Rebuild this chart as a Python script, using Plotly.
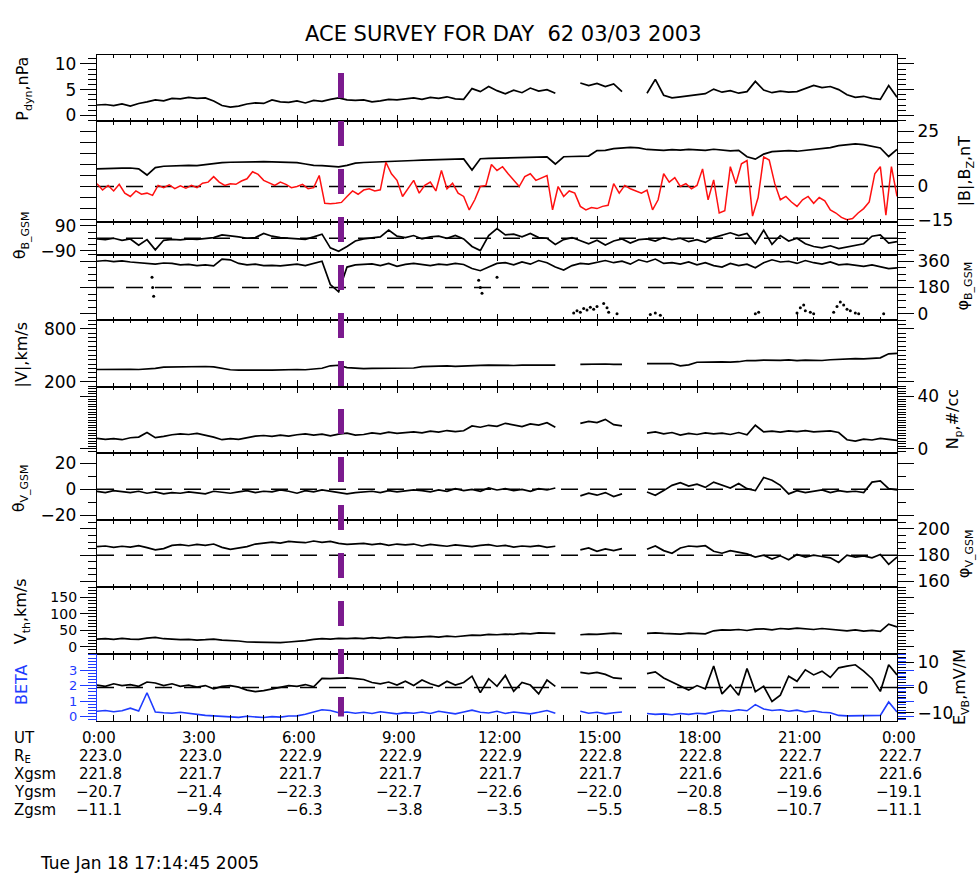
import numpy as np
import plotly.graph_objects as go

nan = float('nan')

# ---------------- data ----------------
t15 = np.linspace(0, 24, 97)    # 15-min sampling, hours UT
t10 = np.linspace(0, 24, 145)   # 10-min sampling for Bz

pdyn = [2.0, 2.1, 1.9, 2.2, 1.8, 2.3, 2.6, 3.0, 2.8, 3.3, 3.2, 3.5, 3.3, 3.4, 2.8, 1.9,
        1.6, 1.8, 2.2, 2.4, 2.3, 3.0, 2.6, 2.5, 2.8, 2.4, 2.9, 2.7, 3.1, 3.4, 3.0, 2.9,
        3.0, 2.6, 2.8, 3.1, 3.0, 3.2, 3.4, 3.1, 3.5, 3.3, 3.6, 3.2, 3.1, 5.2, 4.6, 5.6,
        4.8, 4.2, 4.9, 4.4, 5.3, 4.7, 5.0, 4.3, nan, nan, 6.3, 5.8, 6.2, 5.6, 6.1, 4.6,
        nan, nan, 4.3, 7.0, 3.9, 3.4, 3.6, 3.8, 4.0, 4.2, 5.1, 4.5, 4.8, 4.3, 4.6, 6.6,
        4.9, 4.4, 4.7, 4.5, 4.6, 5.2, 5.8, 5.4, 5.6, 5.0, 4.0, 3.5, 3.7, 3.3, 3.1, 5.8,
        3.5]

b_mag = [8.0, 8.2, 8.1, 8.3, 8.4, 8.0, 5.2, 8.6, 9.2, 9.4, 9.3, 9.6, 9.5, 10.0, 10.5, 10.8,
         11.0, 11.0, 10.9, 11.2, 11.3, 11.1, 11.2, 11.0, 10.8, 10.2, 9.6, 9.5, 9.2, 8.9, 9.6, 10.6,
         10.9, 11.0, 11.2, 11.3, 11.5, 11.6, 11.8, 12.0, 12.1, 12.2, 12.3, 12.4, 12.5, 7.5, 12.6, 12.8,
         12.9, 13.1, 13.0, 13.2, 13.3, 13.2, 13.4, 10.2, 13.5, 13.6, 13.7, 13.8, 16.3, 16.4, 17.2, 17.6,
         17.7, 17.5, 16.8, 16.6, 16.4, 16.7, 16.5, 16.8, 16.6, 16.4, 16.9, 16.5, 16.2, 16.4, 13.5, 12.4,
         14.7, 15.8, 16.1, 16.3, 16.0, 16.4, 16.6, 17.0, 17.6, 18.5, 19.0, 19.3, 19.0, 18.2, 17.5, 13.6,
         16.8]

bz = [1.3, -1.6, 0.5, -2.0, 1.0, -3.0,
      -4.5, -2.0, -3.5, -3.0, -4.0, 0.5,
      -0.5, 0.8, -1.0, 0.3, -0.8, 0.5,
      -0.5, 1.5, 2.0, 4.5, 2.0, 0.5,
      1.3, 1.0, 2.5, 3.5, 6.7, 5.5,
      2.8, 1.5, 0.5, 2.0, 1.0, -0.5,
      0.0, 1.0, -1.0, -0.5, 5.0, -7.6,
      -7.8, -7.6, -7.2, -4.5, -2.0, -3.5,
      -1.6, -1.0, -2.0, -1.5, 11.0, 5.8,
      2.8, -4.5, -1.0, 2.8, -3.0, 0.5,
      2.0, -2.0, 7.3, -1.0, 1.5, -3.0,
      -4.5, -10.6, -6.0, 0.0, 0.5, 10.0,
      7.3, 9.0, 5.8, 3.0, 0.0, 4.5,
      5.8, 2.8, 4.0, 5.0, -10.6, 0.0,
      -4.5, -2.0, -3.0, -9.0, -10.6, -9.5,
      -10.0, -9.0, -8.5, 1.3, -3.0, 0.5,
      -1.0, -2.0, -3.0, -1.6, -10.6, -6.0,
      5.8, 2.0, 4.0, 0.0, 1.3, -1.0,
      0.5, 8.0, -6.0, 3.0, -12.0, -11.0,
      9.0, 1.3, 10.3, 11.8, -13.4, -5.0,
      13.4, 12.0, 1.3, -6.0, -4.5, -7.0,
      -9.0, -6.0, -4.5, -7.6, -5.0, -6.5,
      -10.6, -12.0, -14.0, -15.0, -14.5, -12.0,
      -10.0, -7.0, 5.8, 9.0, -13.0, 9.0,
      -4.5]

theta_b = [-5, -10, 0, -15, -5, -50, -10, -85, -15, -8, -12, -5, -8, -3, 5, 25,
           20, 10, 0, 5, 35, 15, 5, 0, -5, -8, 10, 30, -70, -95, -60, -20,
           -5, 0, 10, 60, 15, 5, 20, -5, 10, 15, 0, 20, -5, -60, -90, 20,
           70, 25, 30, 10, 35, 5, 0, -45, -10, 5, -20, -40, -15, -50, -20, -5,
           -35, -10, -5, -20, 5, -10, 0, -25, -10, -30, 5, 25, 40, 20, 35, -40,
           60, -45, 20, -20, 0, -40, -60, -70, -55, -75, -65, -50, -40, 15, 25, -35,
           -25]

phi_b = [360, 365, 358, 362, 355, 350, 345, 340, 348, 345, 335, 338, 330, 335, 328, 375,
         370, 345, 335, 340, 330, 332, 328, 335, 340, 330, 345, 360, 200, 150, 320, 335,
         338, 342, 330, 345, 325, 338, 345, 335, 330, 340, 335, 345, 338, 310, 295, 320,
         345, 350, 335, 355, 340, 365, 350, 320, 300, 330, 345, 340, 355, 365, 350, 360,
         340, 370, 355, 375, 345, 350, 340, 355, 335, 350, 330, 320, 345, 330, 340, 315,
         350, 370, 355, 360, 345, 365, 350, 340, 355, 335, 340, 330, 325, 335, 320, 310,
         315]

# scattered (wrapped / isolated) phi_B samples
phi_b_pts_t = [1.65, 1.67, 1.70, 11.45, 11.50, 11.55, 12.0,
               14.3, 14.4, 14.5, 14.6, 14.7, 14.8, 14.9, 15.0, 15.2, 15.3, 15.35, 15.6,
               16.6, 16.75, 16.9, 19.75, 19.85,
               21.0, 21.1, 21.2, 21.25, 21.4, 21.5,
               22.1, 22.2, 22.3, 22.4, 22.5, 22.6, 22.75, 22.85, 23.6]
phi_b_pts = [250, 180, 120, 230, 180, 140, 250,
             5, 20, 10, 35, 25, 45, 30, 50, 70, 40, 10, 0,
             -5, 5, -10, 0, 10,
             5, 40, 60, 20, 10, 0,
             10, 50, 80, 60, 30, 20, 5, 0, 0]

v_mag = [338, 340, 336, 339, 341, 338, 340, 350, 365, 368, 370, 366, 369, 372, 367, 350,
         335, 330, 333, 328, 332, 330, 334, 331, 338, 335, 340, 352, 380, 386, 360, 352,
         348, 350, 352, 349, 353, 350, 355, 370, 375, 372, 378, 374, 380, 386, 384, 388,
         385, 390, 383, 387, 386, 390, 384, 388, nan, nan, 395, 398, 396, 400, 397, 395,
         nan, nan, 405, 408, 404, 406, 380, 390, 420, 423, 418, 425, 422, 426, 440, 438,
         445, 440, 442, 446, 438, 444, 442, 440, 448, 455, 460, 462, 458, 463, 470, 515,
         520]

n_p = [8.0, 7.2, 7.8, 7.0, 8.5, 9.0, 12.5, 8.6, 9.5, 10.8, 11.5, 11.0, 11.8, 10.5, 9.0, 7.0,
       7.8, 7.2, 8.5, 9.8, 10.2, 9.5, 10.5, 9.8, 10.8, 11.5, 10.5, 11.2, 10.0, 11.3, 12.0, 10.5,
       11.0, 12.2, 11.5, 12.8, 11.8, 12.5, 13.0, 12.2, 13.5, 12.8, 14.0, 13.2, 13.8, 17.5, 16.5, 18.0,
       17.2, 19.5, 18.0, 17.0, 19.0, 18.2, 20.0, 16.5, nan, nan, 19.5, 21.0, 20.0, 22.5, 18.5, 17.5,
       nan, nan, 12.0, 13.0, 11.5, 12.5, 10.5, 11.8, 11.0, 12.2, 11.5, 12.0, 11.0, 12.5, 10.8, 18.0,
       13.0, 13.5, 12.8, 13.8, 13.2, 14.0, 13.0, 13.5, 13.8, 12.5, 7.0, 6.0, 7.5, 6.8, 8.0, 7.2,
       6.5]

theta_v = [-1.5, -2.5, -1.0, -2.0, -2.5, -1.5, -3.0, -2.0, -3.5, -2.5, -3.0, -2.0, -2.5, -3.5, -1.5, -2.5,
           -3.0, -2.0, -1.0, -2.5, -1.5, -2.0, -0.5, -1.5, -3.0, -1.0, -2.0, -0.5, -1.5, -2.5, -3.5, -2.5,
           -2.0, -1.5, -2.5, -1.0, -2.0, -1.5, -0.5, -1.0, -2.0, -0.5, -1.5, 0.5, -1.0, 0.0, -1.5, 1.0,
           -0.5, 0.5, -1.0, 0.0, -1.5, 0.5, -0.5, 1.0, nan, nan, -5.0, -3.0, -4.5, -2.5, -5.5, -3.5,
           nan, nan, -2.0, -4.5, -1.0, 3.0, 5.0, 2.5, 4.0, 1.5, 5.5, 3.0, 1.0, 4.5, 0.5, -1.0,
           9.0, 7.0, 3.0, -3.5, -1.0, -2.5, -1.5, -0.5, -2.5, -1.0, -2.0, -1.5, -2.5, 5.5, 6.5, 0.5,
           -0.5]

phi_v = [186.5, 187.0, 186.0, 186.8, 186.2, 187.2, 185.8, 184.0, 185.0, 187.5, 188.0, 187.2, 188.2, 187.5, 188.5, 186.0,
         184.5, 185.5, 186.5, 188.5, 189.5, 190.0, 189.2, 190.5, 190.0, 189.5, 190.8, 189.8, 190.5, 189.0, 188.2, 188.8,
         189.0, 188.0, 188.8, 187.5, 188.5, 187.8, 188.5, 187.0, 188.2, 187.5, 186.8, 187.8, 187.0, 186.5, 187.5, 188.0,
         186.8, 187.5, 186.2, 187.0, 186.5, 187.2, 186.0, 186.8, nan, nan, 184.0, 185.5, 183.0, 184.8, 183.5, 185.0,
         nan, nan, 184.5, 187.0, 183.5, 181.5, 185.5, 187.0, 186.5, 187.2, 183.0, 181.5, 183.5, 182.0, 181.0, 178.5,
         180.0, 177.0, 179.5, 176.5, 180.5, 178.5, 180.0, 179.0, 178.0, 174.5, 180.0, 178.5, 179.5, 178.0, 180.5, 173.0,
         178.5]

v_th = [23, 24, 22, 25, 23, 22, 26, 28, 24, 22, 21, 22, 20, 21, 23, 20,
        19, 17, 14, 13, 12, 13, 12, 14, 15, 18, 22, 24, 23, 25, 24, 26,
        24, 27, 25, 28, 26, 29, 28, 30, 31, 29, 32, 30, 33, 35, 34, 37,
        36, 38, 37, 40, 39, 42, 41, 40, nan, nan, 36, 38, 37, 40, 41, 39,
        nan, nan, 40, 42, 40, 39, 38, 41, 40, 39, 48, 51, 50, 52, 49, 53,
        54, 51, 55, 53, 56, 54, 52, 55, 53, 50, 48, 51, 47, 49, 46, 68,
        60]

beta = [0.35, 0.40, 0.32, 0.38, 0.55, 0.36, 1.55, 0.30, 0.25, 0.22, 0.28, 0.20, 0.12, 0.08, 0.05, 0.03,
        0.00, -0.05, 0.02, -0.04, -0.06, 0.00, -0.03, 0.04, 0.05, 0.15, 0.30, 0.45, 0.40, 0.25, 0.30, 0.22,
        0.28, 0.20, 0.32, 0.25, 0.18, 0.26, 0.22, 0.30, 0.20, 0.35, 0.25, 0.18, 0.30, 0.42, 0.28, 0.24,
        0.35, 0.20, 0.30, 0.25, 0.18, 0.28, 0.40, 0.22, nan, nan, 0.35, 0.22, 0.28, 0.18, 0.25, 0.30,
        nan, nan, 0.20, 0.15, 0.18, 0.12, 0.20, 0.15, 0.22, 0.18, 0.30, 0.40, 0.35, 0.45, 0.38, 0.78,
        0.50, 0.40, 0.45, 0.35, 0.42, 0.30, 0.38, 0.28, 0.25, 0.08, 0.05, 0.06, 0.04, 0.05, 0.08, 0.95,
        0.30]

e_vb = [1.0, 0.5, 1.5, 0.8, 1.2, 0.5, 2.2, 1.8, 0.8, 1.5, 0.5, 1.0, 0.2, 0.8, -0.5, 0.5,
        0.8, 0.2, -1.0, -1.6, -1.2, -0.5, 0.2, 0.8, 0.5, 1.2, 0.3, 3.6, 3.5, 3.6, 3.8, 3.5,
        3.2, 2.0, 1.5, 2.2, 1.0, 2.5, 0.8, 3.0, 1.5, 0.5, 2.5, 1.0, 2.0, 4.5, -2.0, 3.5,
        0.5, 4.8, -1.5, 2.0, 1.0, -2.5, 3.0, 0.5, nan, nan, 6.0, 5.5, 6.0, 5.2, 3.8, 3.5,
        nan, nan, 5.5, 6.2, 3.8, 2.3, 0.5, -1.0, 0.8, -0.5, 8.5, -2.5, 1.0, -3.0, 7.5, -1.6,
        0.5, -5.5, -3.0, 4.5, 2.5, 7.0, 5.0, 6.5, 4.0, 7.8, 8.5, 9.0, 6.5, 3.5, -1.5, 9.0,
        5.0]

event_time = 7.32   # purple marker, hours UT

ut_hours = [0, 3, 6, 9, 12, 15, 18, 21, 24]
ut_labels = ['0:00', '3:00', '6:00', '9:00', '12:00', '15:00', '18:00', '21:00', '0:00']
r_e = ['223.0', '223.0', '222.9', '222.9', '222.9', '222.8', '222.8', '222.7', '222.7']
x_gsm = ['221.8', '221.7', '221.7', '221.7', '221.7', '221.7', '221.6', '221.6', '221.6']
y_gsm = ['-20.7', '-21.4', '-22.3', '-22.7', '-22.6', '-22.0', '-20.8', '-19.6', '-19.1']
z_gsm = ['-11.1', '-9.4', '-6.3', '-3.8', '-3.5', '-5.5', '-8.5', '-10.7', '-11.1']

# ---------------- layout geometry ----------------
W, H = 980, 884
XL, XR = 97, 897
edges = [50, 117.3, 219.3, 252.7, 319.3, 386.7, 454.3, 522.7, 590, 658.3, 726.3]
FONT = 'DejaVu Sans'
BLUE = '#1f3cff'
AXW = 1.3


def py(p):
    return 1 - p / H


def sid(i):
    return '' if i == 1 else str(i)


def mn(s):
    return s.replace('-', '\u2212')


def sub(s, px=11, shift=4):
    return '<span style="font-size:%dpx;baseline-shift:-%dpx">%s</span>' % (px, shift, s)


# major = labelled ticks; extra = unlabelled long ticks; minor = short ticks
panels = [
    dict(rng=[-1.2, 11.7], tv=[0, 5, 10], minor=1, extra=[], side='left'),
    dict(rng=[-16, 29.5], tv=[-15, 0, 25], minor=None, extra=[-10, -5, 5, 10, 15, 20], side='right'),
    dict(rng=[-120, 120], tv=[-90, 90], minor=45, extra=[], side='left'),
    dict(rng=[-45, 405], tv=[0, 180, 360], minor=45, extra=[], side='right'),
    dict(rng=[145, 895], tv=[200, 800], minor=50, extra=[], side='left'),
    dict(rng=[-3.2, 47.5], tv=[0, 40], minor=2, extra=[], side='right'),
    dict(rng=[-23.8, 27.7], tv=[-20, 0, 20], minor=10, extra=[], side='left'),
    dict(rng=[156, 206.5], tv=[160, 180, 200], minor=5, extra=[], side='right'),
    dict(rng=[-22, 182], tv=[0, 50, 100, 150], minor=10, extra=[], side='left', fs=14),
    dict(rng=[-0.27, 4.07], tv=[0, 1, 2, 3], minor=0.2, extra=[], side='left', color=BLUE, fs=13),
]
ey_axis = dict(rng=[-13.1, 13.3], tv=[-10, 0, 10], minor=2)


def minor_vals(rng, step, major):
    if step is None:
        return []
    k0 = int(np.ceil(rng[0] / step))
    k1 = int(np.floor(rng[1] / step))
    vals = [round(k * step, 6) for k in range(k0, k1 + 1)]
    return [v for v in vals if all(abs(v - m) > 1e-6 for m in major)]


def fmt(v):
    return mn(('%g' % v))


layout = dict(width=W, height=H, margin=dict(l=0, r=0, t=0, b=0),
              paper_bgcolor='white', plot_bgcolor='white', showlegend=False,
              font=dict(family=FONT, size=17, color='black'))

x_major = list(range(0, 25, 3))
x_minor = [k * 0.5 for k in range(49) if (k * 0.5) % 3 != 0]

for i in range(1, 11):
    p = panels[i - 1]
    col = p.get('color', 'black')
    layout['xaxis' + sid(i)] = dict(
        domain=[XL / W, XR / W], anchor='y' + sid(i), range=[0, 24],
        showline=True, linecolor='black', linewidth=AXW, mirror='allticks',
        ticks='inside', ticklen=6, tickwidth=1.3, tickcolor='black',
        tickmode='array', tickvals=x_major, showticklabels=False,
        showgrid=False, zeroline=False,
        minor=dict(tickmode='array', tickvals=x_minor, ticks='inside', ticklen=3,
                   tickwidth=1.1, tickcolor='black', showgrid=False))
    if p['extra']:
        mvals, mlen = p['extra'], 16
    else:
        mvals, mlen = minor_vals(p['rng'], p['minor'], p['tv']), 8
    layout['yaxis' + sid(i)] = dict(
        domain=[py(edges[i]), py(edges[i - 1])], anchor='x' + sid(i),
        range=p['rng'], side=p['side'],
        showline=True, linecolor=col, linewidth=AXW, mirror='allticks',
        ticks='outside', ticklen=16, tickwidth=1.3, tickcolor=col,
        tickmode='array', tickvals=p['tv'], ticktext=[fmt(v) for v in p['tv']],
        tickfont=dict(family=FONT, size=p.get('fs', 17), color=col),
        showgrid=False, zeroline=False,
        minor=dict(tickmode='array', tickvals=mvals,
                   ticks='outside', ticklen=mlen, tickwidth=1.1, tickcolor=col, showgrid=False))

layout['yaxis11'] = dict(
    overlaying='y10', anchor='x10', side='right', range=ey_axis['rng'],
    showline=True, linecolor='black', linewidth=AXW,
    ticks='outside', ticklen=16, tickwidth=1.3, tickcolor='black',
    tickmode='array', tickvals=ey_axis['tv'], ticktext=[fmt(v) for v in ey_axis['tv']],
    tickfont=dict(family=FONT, size=17, color='black'),
    showgrid=False, zeroline=False,
    minor=dict(tickmode='array', tickvals=minor_vals(ey_axis['rng'], ey_axis['minor'], ey_axis['tv']),
               ticks='outside', ticklen=8, tickwidth=1.1, tickcolor='black', showgrid=False))

fig = go.Figure(layout=layout)


def add_line(x, y, i, color='black', width=1.7, yax=None):
    fig.add_trace(go.Scatter(x=x, y=y, mode='lines', xaxis='x' + sid(i),
                             yaxis=yax if yax else 'y' + sid(i),
                             line=dict(color=color, width=width), hoverinfo='skip',
                             connectgaps=False))


add_line(t15, pdyn, 1)
add_line(t15, b_mag, 2)
add_line(t10, bz, 2, color='#ff1010', width=1.5)
add_line(t15, theta_b, 3)
add_line(t15, phi_b, 4)
fig.add_trace(go.Scatter(x=phi_b_pts_t, y=phi_b_pts, mode='markers', xaxis='x4', yaxis='y4',
                         marker=dict(color='black', size=3), hoverinfo='skip'))
add_line(t15, v_mag, 5)
add_line(t15, n_p, 6)
add_line(t15, theta_v, 7)
add_line(t15, phi_v, 8)
add_line(t15, v_th, 9)
add_line(t15, beta, 10, color=BLUE, width=1.6)
add_line(t15, e_vb, 10, yax='y11')

# dashed reference levels
DASH = '17px,12px'
for xr, yr, lev in [('x2', 'y2', 0), ('x3', 'y3', 0), ('x4', 'y4', 180),
                    ('x7', 'y7', 0), ('x8', 'y8', 180), ('x10', 'y11', 0)]:
    fig.add_shape(type='line', xref=xr, yref=yr, x0=0, x1=24, y0=lev, y1=lev,
                  line=dict(color='black', width=1.5, dash=DASH), layer='below')

# event marker
fig.add_shape(type='line', xref='x', yref='paper', x0=event_time, x1=event_time,
              y0=py(68), y1=py(722),
              line=dict(color='#7b1a8e', width=6, dash='25px,23px'), layer='above')

ann = []
ann.append(dict(text='ACE SURVEY FOR DAY\u00a0\u00a062 03/03 2003', x=503 / W, y=py(28),
                xref='paper', yref='paper', xanchor='center', yanchor='middle',
                showarrow=False, font=dict(family=FONT, size=21, color='black')))
ann.append(dict(text='Tue Jan 18 17:14:45 2005', x=38 / W, y=py(871),
                xref='paper', yref='paper', xanchor='left', yanchor='middle',
                showarrow=False, font=dict(family=FONT, size=17, color='black')))

axis_titles = [
    ('P' + sub('dyn') + ',nPa', 24, 84, 'black'),
    ('|B|,B' + sub('Z') + ',nT', 966, 168, 'black'),
    ('\u03b8' + sub('B_GSM'), 21, 233, 'black'),
    ('\u03c6' + sub('B_GSM'), 964, 285, 'black'),
    ('|V|,km/s', 21, 355, 'black'),
    ('N' + sub('p') + ',#/cc', 954, 420, 'black'),
    ('\u03b8' + sub('V_GSM'), 20, 490, 'black'),
    ('\u03c6' + sub('V_GSM'), 965, 557, 'black'),
    ('V' + sub('th') + ',km/s', 22, 615, 'black'),
    ('BETA', 21, 690, BLUE),
    ('E' + sub('VB') + ',mV/M', 961, 692, 'black'),
]
for txt, xp, yp, c in axis_titles:
    ann.append(dict(text=txt, x=xp / W, y=py(yp), xref='paper', yref='paper',
                    xanchor='center', yanchor='middle', textangle=-90, showarrow=False,
                    font=dict(family=FONT, size=16, color=c)))

TFS = 15
row_y = [744, 762.2, 780.4, 798.6, 816.8]
row_names = ['UT', 'R' + sub('E', 10, 2), 'Xgsm', 'Ygsm', 'Zgsm']
for name, yp in zip(row_names, row_y):
    ann.append(dict(text=name, x=13 / W, y=py(yp), xref='paper', yref='paper',
                    xanchor='left', yanchor='middle', showarrow=False, borderpad=0,
                    font=dict(family=FONT, size=TFS, color='black')))
for j, h in enumerate(ut_hours):
    ann.append(dict(text=ut_labels[j], x=h, y=py(row_y[0]), xref='x10', yref='paper',
                    xanchor='center', yanchor='middle', xshift=2, showarrow=False, borderpad=0,
                    font=dict(family=FONT, size=TFS, color='black')))
    for vals, yp in zip([r_e, x_gsm, y_gsm, z_gsm], row_y[1:]):
        ann.append(dict(text=mn(vals[j]), x=h, y=py(yp), xref='x10', yref='paper',
                        xanchor='right', yanchor='middle', xshift=26, showarrow=False, borderpad=0,
                        font=dict(family=FONT, size=TFS, color='black')))

fig.update_layout(annotations=ann)
fig.write_html('out.html')
